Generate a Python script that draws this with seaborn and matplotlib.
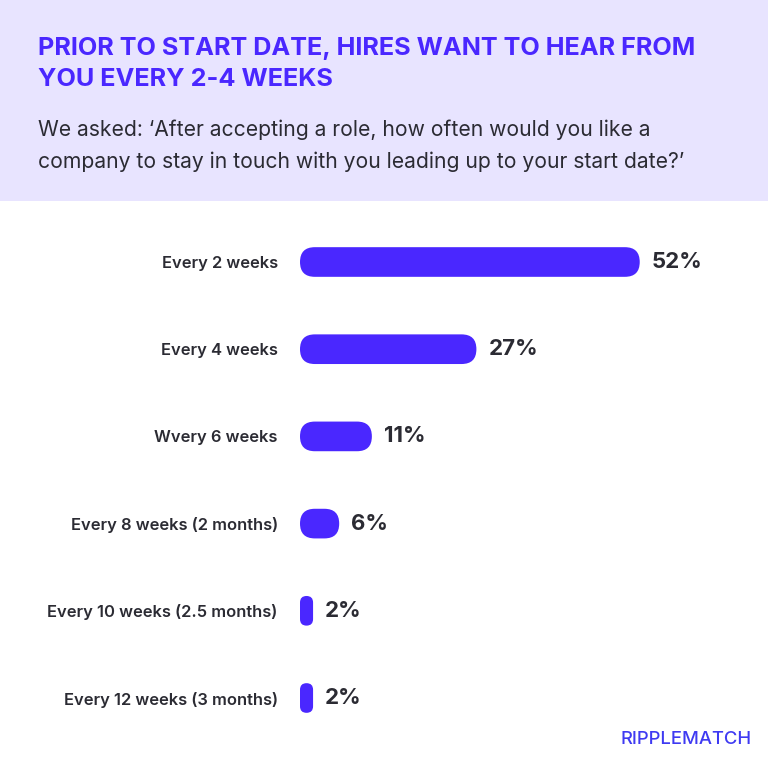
import matplotlib
matplotlib.use("Agg")
import matplotlib.pyplot as plt
import seaborn as sns
import pandas as pd
from matplotlib.patches import FancyBboxPatch, Rectangle

# data
categories = ["Every 2 weeks", "Every 4 weeks", "Wvery 6 weeks",
              "Every 8 weeks (2 months)", "Every 10 weeks (2.5 months)",
              "Every 12 weeks (3 months)"]
percentages = [52, 27, 11, 6, 2, 2]
value_labels = ["52%", "27%", "11%", "6%", "2%", "2%"]

df = pd.DataFrame({"freq": categories, "pct": percentages})

purple = "#4A27FF"
dark = "#2B2B33"

sns.set_style("white")
plt.rcParams["font.family"] = ["Inter", "DejaVu Sans"]

fig = plt.figure(figsize=(7.68, 7.68), dpi=100)

# header band
fig.patches.append(Rectangle((0, 1 - 201 / 768), 1, 201 / 768, transform=fig.transFigure,
                             facecolor="#E8E4FF", edgecolor="none", zorder=0))

fig.text(38 / 768, 1 - 48 / 768, "PRIOR TO START DATE, HIRES WANT TO HEAR FROM",
         color=purple, fontsize=18.2, fontweight="bold", va="center", ha="left")
fig.text(38 / 768, 1 - 80 / 768, "YOU EVERY 2-4 WEEKS",
         color=purple, fontsize=18.2, fontweight="bold", va="center", ha="left")
fig.text(38 / 768, 1 - 130 / 768,
         "We asked: \u2018After accepting a role, how often would you like a",
         color=dark, fontsize=15.2, va="center", ha="left")
fig.text(38 / 768, 1 - 162 / 768,
         "company to stay in touch with you leading up to your start date?\u2019",
         color=dark, fontsize=15.2, va="center", ha="left")

# chart axes: x 0..60 mapped to 300..692 px
ax_left = 300 / 768
ax_w = 392 / 768
ax_top = 218.4
ax_bot = 741.6
ax = fig.add_axes([ax_left, 1 - ax_bot / 768, ax_w, (ax_bot - ax_top) / 768])
ax.patch.set_alpha(0)

bar_h = 0.34
sns.barplot(data=df, x="pct", y="freq", orient="h", color=purple,
            width=bar_h, ax=ax)
ax.set_xlim(0, 60)
ax.set_ylim(5.5, -0.5)

# replace square bars by rounded pills
px_per_x = ax_w * 768 / 60
px_per_y = (ax_bot - ax_top) / 6
aspect = px_per_x / px_per_y
for p in list(ax.patches):
    x0, y0 = p.get_x(), p.get_y()
    w, h = p.get_width(), p.get_height()
    h_in_x = h / aspect
    r = min(w, h_in_x) / 2
    pill = FancyBboxPatch((x0, y0), w, h,
                          boxstyle=f"round,pad=0,rounding_size={r}",
                          mutation_aspect=aspect,
                          facecolor=purple, edgecolor="none")
    p.remove()
    ax.add_patch(pill)
    ax.text(x0 + w + 12 / px_per_x, y0 + h / 2, value_labels[int(round(y0 + h / 2))],
            va="center", ha="left", fontsize=16, fontweight="bold", color=dark)

ax.set_xlabel("")
ax.set_ylabel("")
ax.set_xticks([])
ax.tick_params(axis="y", length=0, pad=16)
for lbl in ax.get_yticklabels():
    lbl.set_fontsize(11.9)
    lbl.set_fontweight("semibold")
    lbl.set_color(dark)
sns.despine(ax=ax, left=True, bottom=True)

fig.text(752 / 768, 1 - 740 / 768, "RIPPLEMATCH", color="#3F3AF2",
         fontsize=13.3, ha="right", va="center", fontweight="medium")

fig.savefig("out.png", dpi=100)
